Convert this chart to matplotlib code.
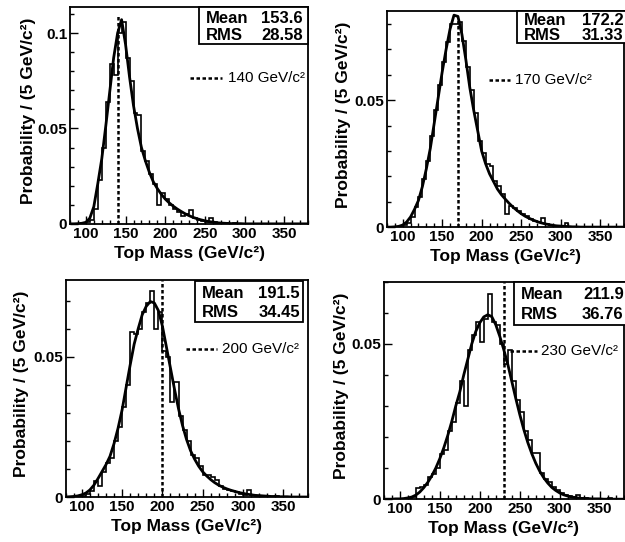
import numpy as np
import matplotlib
matplotlib.use("Agg")
import matplotlib.pyplot as plt
from matplotlib.ticker import MultipleLocator, FuncFormatter
from matplotlib.patches import Rectangle

plt.rcParams['font.family'] = ['Liberation Sans', 'DejaVu Sans']

# histogram bin edges (5 GeV bins) and fit curve sample points
bin_edges = np.arange(80, 385, 5)
curve_x = np.arange(80, 385, 5)

true_mass = [140, 170, 200, 230]
mean_vals = ["153.6", "172.2", "191.5", "211.9"]
rms_vals = ["28.58", "31.33", "34.45", "36.76"]

hist_140 = [0, 0, 0, 0.0004, 0.0008, 0.002, 0.008, 0.023, 0.040, 0.064,
            0.084, 0.078, 0.100, 0.106, 0.087, 0.075, 0.058, 0.057, 0.038, 0.033,
            0.026, 0.021, 0.010, 0.016, 0.013, 0.010, 0.008, 0.006, 0.004, 0.005,
            0.0075, 0.003, 0.002, 0.0015, 0.001, 0.003, 0.0008, 0.0004, 0.0004, 0.0002,
            0, 0.0002, 0, 0, 0, 0, 0, 0, 0, 0,
            0, 0, 0, 0, 0, 0, 0, 0, 0, 0]
fit_140 = [0, 0, 0.0001, 0.0003, 0.0008, 0.003, 0.009, 0.021, 0.034, 0.051,
           0.069, 0.087, 0.100, 0.107, 0.094, 0.077, 0.062, 0.050, 0.040, 0.033,
           0.027, 0.022, 0.0185, 0.0155, 0.013, 0.011, 0.0093, 0.0078, 0.0065, 0.0053,
           0.0043, 0.0034, 0.0027, 0.0021, 0.0016, 0.0012, 0.0009, 0.0006, 0.0004, 0.0003,
           0.0002, 0.0001, 0.0001, 0.0001, 0, 0, 0, 0, 0, 0,
           0, 0, 0, 0, 0, 0, 0, 0, 0, 0, 0]

hist_170 = [0, 0, 0, 0.0004, 0.001, 0.0015, 0.004, 0.008, 0.012, 0.019,
            0.026, 0.036, 0.046, 0.056, 0.065, 0.073, 0.080, 0.080, 0.081, 0.0735,
            0.063, 0.054, 0.045, 0.034, 0.029, 0.025, 0.024, 0.018, 0.016, 0.013,
            0.005, 0.0085, 0.0075, 0.0065, 0.005, 0.0045, 0.0033, 0.0025, 0.002, 0.0035,
            0.0012, 0.001, 0.0006, 0.0005, 0.0003, 0.0017, 0.0002, 0.0001, 0, 0,
            0, 0, 0, 0, 0, 0, 0, 0, 0, 0]
fit_170 = [0, 0, 0.0001, 0.0003, 0.0008, 0.002, 0.004, 0.007, 0.0105, 0.016,
           0.023, 0.031, 0.041, 0.051, 0.061, 0.070, 0.078, 0.0835, 0.083, 0.076,
           0.066, 0.055, 0.046, 0.038, 0.030, 0.025, 0.021, 0.018, 0.015, 0.0128,
           0.011, 0.0093, 0.0078, 0.0065, 0.0053, 0.0043, 0.0035, 0.0028, 0.0022, 0.0017,
           0.0013, 0.001, 0.0007, 0.0005, 0.0004, 0.0003, 0.0002, 0.0001, 0.0001, 0,
           0, 0, 0, 0, 0, 0, 0, 0, 0, 0, 0]

hist_200 = [0, 0, 0, 0, 0.0005, 0.001, 0.002, 0.0057, 0.004, 0.009,
            0.012, 0.014, 0.020, 0.025, 0.032, 0.040, 0.059, 0.058, 0.060, 0.066,
            0.069, 0.0735, 0.060, 0.066, 0.052, 0.050, 0.034, 0.041, 0.029, 0.024,
            0.020, 0.015, 0.014, 0.011, 0.008, 0.008, 0.007, 0.006, 0.004, 0.003,
            0.0025, 0.002, 0.0018, 0.001, 0.0008, 0.0025, 0.0006, 0.0004, 0.0003, 0.0002,
            0.0001, 0, 0.0002, 0, 0, 0, 0, 0, 0, 0]
fit_200 = [0, 0.0001, 0.0002, 0.0004, 0.0008, 0.0014, 0.0025, 0.0042, 0.0065, 0.009,
           0.0115, 0.0145, 0.019, 0.0245, 0.031, 0.039, 0.047, 0.0545, 0.060, 0.065,
           0.068, 0.0697, 0.0692, 0.0665, 0.061, 0.0535, 0.046, 0.0385, 0.0315, 0.0255,
           0.0205, 0.0165, 0.0135, 0.011, 0.009, 0.0075, 0.0062, 0.0051, 0.0042, 0.0035,
           0.0029, 0.0024, 0.002, 0.0016, 0.0013, 0.001, 0.0008, 0.0006, 0.0005, 0.0004,
           0.0003, 0.0002, 0.0002, 0.0001, 0.0001, 0.0001, 0, 0, 0, 0, 0]

hist_230 = [0, 0, 0, 0, 0, 0.0002, 0.0003, 0.0008, 0.0035, 0.004,
            0.0045, 0.0072, 0.008, 0.010, 0.0147, 0.016, 0.022, 0.025, 0.031, 0.038,
            0.030, 0.048, 0.053, 0.057, 0.0507, 0.058, 0.066, 0.057, 0.056, 0.050,
            0.0435, 0.048, 0.038, 0.032, 0.028, 0.022, 0.019, 0.0148, 0.0148, 0.0085,
            0.0065, 0.0055, 0.004, 0.003, 0.002, 0.0015, 0.001, 0.0008, 0.0013, 0.0004,
            0.0003, 0.0002, 0.0002, 0.0001, 0.0001, 0.0001, 0.0003, 0, 0, 0]
fit_230 = [0, 0, 0, 0.0001, 0.0001, 0.0002, 0.0004, 0.0007, 0.0013, 0.0023,
           0.0037, 0.0054, 0.0075, 0.010, 0.013, 0.0165, 0.0205, 0.025, 0.030, 0.0345,
           0.040, 0.045, 0.050, 0.054, 0.0568, 0.0587, 0.0594, 0.0588, 0.0562, 0.0525,
           0.0482, 0.0435, 0.038, 0.0325, 0.0273, 0.0225, 0.0183, 0.0147, 0.0116, 0.009,
           0.0069, 0.0052, 0.0038, 0.0028, 0.002, 0.0014, 0.001, 0.0007, 0.0005, 0.0003,
           0.0002, 0.0002, 0.0001, 0.0001, 0.0001, 0, 0, 0, 0, 0, 0]

hists = [hist_140, hist_170, hist_200, hist_230]
fits = [fit_140, fit_170, fit_200, fit_230]

# layout (figure fractions)
axes_rects = [[0.112, 0.587, 0.381, 0.400],
              [0.619, 0.581, 0.379, 0.399],
              [0.105, 0.083, 0.387, 0.400],
              [0.614, 0.079, 0.384, 0.401]]
ylims = [0.1136, 0.0852, 0.0773, 0.070]
vline_tops = [0.109, 0.080, 0.0773, 0.070]
ylab_x = [-0.142, -0.152, -0.150, -0.146]
box_rects = [[0.542, 0.829, 0.458, 0.171],
             [0.549, 0.852, 0.47, 0.148],
             [0.535, 0.806, 0.446, 0.19],
             [0.542, 0.802, 0.478, 0.198]]
value_right = [0.979, 1.0, 0.969, 1.0]
leg_pos = [(0.504, 0.639, 0.664, 0.673),
           (0.430, 0.519, 0.542, 0.680),
           (0.4975, 0.626, 0.646, 0.682),
           (0.525, 0.6375, 0.657, 0.683)]

fig = plt.figure(figsize=(6.25, 5.42), dpi=100)
dash = (0, (1.4, 1.0))

for i in range(4):
    ax = fig.add_axes(axes_rects[i])
    ax.stairs(hists[i], bin_edges, color='black', lw=1.2)
    ax.plot(curve_x, fits[i], color='black', lw=2.0)
    ax.vlines(true_mass[i], 0, vline_tops[i], colors='black', lw=1.8, linestyles=dash)

    ax.set_xlim(80, 380)
    ax.set_ylim(0, ylims[i])
    ax.xaxis.set_minor_locator(MultipleLocator(10))
    ax.yaxis.set_major_locator(MultipleLocator(0.05))
    ax.yaxis.set_minor_locator(MultipleLocator(0.01))
    ax.yaxis.set_major_formatter(FuncFormatter(lambda v, p: '%g' % round(v, 3)))
    ax.set_xticks([100, 150, 200, 250, 300, 350])
    ax.tick_params(which='both', direction='in', top=False, right=False,
                   width=1.0, labelsize=11, pad=2)
    ax.tick_params(which='major', length=6)
    ax.tick_params(which='minor', length=3)
    for lab in ax.get_xticklabels() + ax.get_yticklabels():
        lab.set_fontweight('bold')
    for sp in ax.spines.values():
        sp.set_linewidth(1.3)

    ax.set_xlabel('Top Mass (GeV/c²)', fontsize=12.5, fontweight='bold')
    ax.xaxis.set_label_coords(0.5, -0.10)
    ax.set_ylabel('Probability / (5 GeV/c²)', fontsize=12.5, fontweight='bold')
    ax.yaxis.set_label_coords(ylab_x[i], 0.52)

    # statistics box
    bx, by, bw, bh = box_rects[i]
    ax.add_patch(Rectangle((bx, by), bw, bh, transform=ax.transAxes,
                           facecolor='white', edgecolor='black', lw=1.3,
                           clip_on=False, zorder=5))
    ax.text(bx + 0.028, by + bh * 0.70, 'Mean', transform=ax.transAxes,
            fontsize=12, fontweight='bold', va='center', ha='left', zorder=6)
    ax.text(value_right[i], by + bh * 0.70, mean_vals[i], transform=ax.transAxes,
            fontsize=12, fontweight='bold', va='center', ha='right', zorder=6)
    ax.text(bx + 0.028, by + bh * 0.24, 'RMS', transform=ax.transAxes,
            fontsize=12, fontweight='bold', va='center', ha='left', zorder=6)
    ax.text(value_right[i], by + bh * 0.24, rms_vals[i], transform=ax.transAxes,
            fontsize=12, fontweight='bold', va='center', ha='right', zorder=6)

    # legend entry for the generated mass
    x0, x1, xt, yl = leg_pos[i]
    ax.plot([x0, x1], [yl, yl], transform=ax.transAxes, color='black',
            lw=1.8, linestyle=dash, clip_on=False)
    ax.text(xt, yl, '%d GeV/c²' % true_mass[i], transform=ax.transAxes,
            fontsize=11, va='center', ha='left')

fig.savefig('out.png', dpi=100)
